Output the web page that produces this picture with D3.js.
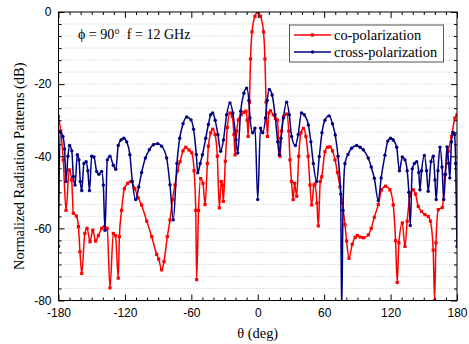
<!DOCTYPE html>
<html>
<head>
<meta charset="UTF-8">
<script src="https://d3js.org/d3.v7.min.js"></script>
<style>
  body { margin: 0; background: #fff; }
  svg { display: block; }
  .tick text { font-family: "Liberation Sans", Arial, sans-serif; font-size: 12px; fill: #000; }
  .serif { font-family: "Liberation Serif", "Times New Roman", serif; fill: #000; }
</style>
</head>
<body>
<svg id="chart" width="469" height="344"></svg>
<script>
// co-polarization (red)
const thetaCo = [-180, -178, -175.7, -173.2, -170.3, -168.1, -166.6, -163.8, -162, -160.6, -159, -156.2, -154.2, -151.5,
  -149, -146.5, -144, -141, -138.5, -136, -133.5, -130.5, -128.5, -126, -125, -123, -120.5, -117.5, -114.5, -111,
  -108, -105, -100.3, -95.8, -91.3, -89.5, -86.8, -84.7, -81.7, -79.3, -77, -74.8, -72.5, -70.2, -67.5, -65, -62,
  -59.7, -57.5, -56, -55.2, -53.5, -51.6, -49.5, -47.6, -45.5, -44.6, -42.5, -40.7, -38.5, -36.5, -34.7, -33, -32,
  -31.1, -29.3, -27.5, -25.1, -23, -21.5, -20.5, -19, -17.5, -15, -12.5, -10.6, -9.5, -8.7, -7.5, -6.5, -5.2, -2.5,
  0, 2.5, 5.2, 6.5, 7.5, 8.7, 10, 11.5, 14, 16, 17.7, 19, 20.1, 21.5, 23.5, 26.1, 28, 29.1, 30.5, 32, 33.3, 35.2,
  37, 39, 41.2, 43.5, 45.5, 47.2, 48.7, 50.8, 51.7, 53.5, 54.7, 56.5, 57.8, 60.7, 63, 65.3, 67.5, 69.8, 72, 74.3,
  76.5, 78.8, 80.3, 82.4, 85.4, 88, 90, 92.5, 95.4, 99.9, 102.5, 105.3, 108.9, 111.9, 115.5, 119.4, 122.4, 124.5,
  126, 127.5, 130.6, 133, 135, 137.5, 140.5, 142.5, 145, 148, 151, 154, 156, 158.5, 159.7, 161, 163.1, 166.7, 169.1,
  172.1, 175.1, 178.1, 180];
const dbCo = [-29, -33, -41, -55, -43.8, -46.6, -55.8, -56.6, -59.5, -66.5, -72.5, -61.4, -60, -63.7,
  -60.5, -63.5, -62, -60, -59.5, -60, -76.5, -61.4, -62, -73.8, -62.3, -55, -49, -47.5, -47, -49,
  -51.5, -53.5, -58, -62.3, -67.2, -68.5, -71.5, -69.2, -62.3, -57.7, -52, -48, -44, -41.5, -38.5, -37.5, -38.3,
  -39, -44, -55, -74.2, -55, -46.2, -47.5, -53.4, -42, -37.2, -33.5, -32.5, -34, -40, -54.3, -47, -48,
  -52.5, -41.4, -32, -28, -29, -34, -39.6, -33, -29.9, -28.5, -27.8, -27.5, -30, -34.5, -25, -13, -5.5, -1.2,
  0, -1.2, -5.5, -13, -25, -34.5, -28, -27.4, -28.5, -29.5, -30, -36, -40, -33, -29, -28.3, -33, -41, -47, -52, -47.5, -51.1,
  -40, -33.5, -32.3, -34.5, -40, -48, -53.5, -48, -47.7, -53, -59.3, -47, -45.7, -38.7, -37.5, -37.4, -38.5, -41, -44.5, -48.5,
  -53, -59, -63.5, -68.3, -64.4, -62.5, -62, -62.4, -62.6, -61.8, -60, -56.9, -53.4, -49.3, -48.3, -49.3, -53.5, -63.4,
  -75, -64, -58.5, -65, -58, -51, -49.3, -50.5, -53.9, -55.3, -56.2, -56.7, -58, -66, -80, -64, -54.8, -54.2, -45.1,
  -38.6, -34.5, -29.4, -28.5];

// cross-polarization (blue)
const thetaCross = [-180, -178.6, -176, -174.5, -173.2, -171.5, -170, -168, -166.6, -165.1, -163, -161.5, -160.3, -159,
  -157, -155, -153.5, -152, -150, -148, -145.5, -143.5, -141, -139.5, -138, -135.9, -133.5, -130.5, -128.2, -126,
  -123.5, -121, -118.4, -115.5, -113.3, -110.3, -107.5, -104.9, -101.5, -98, -94.3, -90.4, -86.8, -82.3, -79.3,
  -76.3, -73, -70.5, -67.5, -64.2, -60.3, -58, -55.5, -54.2, -52, -50, -47, -44.6, -42.5, -40.7, -38.5, -36, -33.5,
  -31, -28.1, -25.1, -22.5, -19.6, -18.1, -15.4, -12.5, -10, -8, -7, -4.5, -2.5, 0, 2.5, 4.5, 7, 8.5, 10.5, 13,
  15.6, 18, 19.5, 21, 23.1, 26.1, 28.5, 30.6, 34, 36.5, 39.5, 42, 45.7, 48, 50.2, 53.2, 55.6, 58, 60.7, 64.5, 67.5,
  70, 72.5, 74.9, 75.8, 77, 78.8, 81.5, 84.8, 89.3, 92.5, 95.3, 99.8, 102.5, 105.3, 108.9, 111.5, 114.9, 117.5, 120,
  122.4, 125.5, 128, 130.6, 133, 135, 136.5, 137.8, 139.6, 141.5, 143.6, 145.5, 146.5, 148, 150.5, 152.5, 154, 156.5,
  158.6, 160.1, 161.2, 162.8, 164.6, 166.5, 168, 169.5, 171, 172.5, 173.5, 175, 176.3, 177.8, 178.8, 180];
const dbCross = [-65, -33.2, -34.5, -38, -47, -40, -37, -38.5, -45.6, -48, -39.6, -41, -47, -49.5,
  -42, -41.5, -44, -49.5, -40, -40.2, -44.2, -45, -44.2, -48, -60.5, -41, -40, -42.5, -43.6, -37,
  -35.5, -35, -36, -39.6, -47, -52, -48.5, -44.5, -40.5, -38.2, -36.8, -36.5, -37.2, -40.5, -47.9,
  -57.6, -42, -35, -31, -29.1, -29.9, -32.5, -39.5, -44.6, -42, -39.6, -35, -31.2, -28.5, -28, -30, -34, -38.6,
  -35.5, -28.5, -25.2, -28, -35.4, -39.1, -27.5, -22.5, -21.1, -24.5, -29.4, -33.5, -32.2, -52, -32.2, -33.5, -29.4, -24.5, -21.5, -23,
  -28.5, -36, -39.6, -35, -29.4, -25, -28.5, -34.5, -37, -34, -28, -28.5, -31.3, -36, -42, -47, -40.1, -33.5, -30, -28.8, -31,
  -34.1, -40, -50.5, -84, -55, -42, -39.5, -37.8, -37, -37.5, -38.2, -40.5, -43, -46.1, -52.3, -46, -39.7, -35.8, -35,
  -35.5, -37.5, -44, -40.2, -41, -44, -50, -59.2, -43.5, -42, -41.5, -44.5, -49.3, -44, -39.8, -44, -49.7, -41.5,
  -40, -46.6, -52, -44, -37.5, -43, -52, -45, -37.4, -42, -46, -36, -33.3, -34, -42, -65];

const xTicks = [-180, -120, -60, 0, 60, 120, 180];
const yTicks = [0, -20, -40, -60, -80];

const svg = d3.select("#chart");
const mLeft = 58.5, mRight = 457, mTop = 12, mBottom = 300.5;

const x = d3.scaleLinear().domain([-180, 180]).range([mLeft, mRight]);
const y = d3.scaleLinear().domain([-80, 0]).range([mBottom, mTop]);

const xMinor = d3.range(-180, 181, 10).filter(v => !xTicks.includes(v));
const yAll = d3.range(0, 25).map(i => -80 + i * 80 / 24);
const yMinor = yAll.filter(v => !yTicks.some(t => Math.abs(t - v) < 1e-6));
const fmt = d => String(d);

// grid
svg.append("g")
  .selectAll("line")
  .data(yAll.filter(v => v > -79.9 && v < -0.1))
  .join("line")
  .attr("x1", mLeft).attr("x2", mRight)
  .attr("y1", d => y(d)).attr("y2", d => y(d))
  .attr("stroke", "#c4c4c4")
  .attr("stroke-width", 1)
  .attr("stroke-dasharray", "1,2");

svg.append("defs").append("clipPath").attr("id", "clip")
  .append("rect").attr("x", mLeft).attr("y", mTop).attr("width", mRight - mLeft).attr("height", mBottom - mTop);

const line = d3.line().x(d => x(d[0])).y(d => y(d[1])).curve(d3.curveMonotoneX);

const co = thetaCo.map((t, i) => [t, dbCo[i]]);
const cross = thetaCross.map((t, i) => [t, dbCross[i]]);

const plot = svg.append("g").attr("clip-path", "url(#clip)");

plot.append("path").datum(co)
  .attr("d", line).attr("fill", "none").attr("stroke", "#ff0000").attr("stroke-width", 1.5);
plot.append("g").selectAll("rect").data(co).join("rect")
  .attr("x", d => x(d[0]) - 1.6).attr("y", d => y(d[1]) - 1.6)
  .attr("width", 3.2).attr("height", 3.2).attr("fill", "#ff0000");

plot.append("path").datum(cross)
  .attr("d", line).attr("fill", "none").attr("stroke", "#000080").attr("stroke-width", 1.5);
plot.append("g").selectAll("circle").data(cross).join("circle")
  .attr("cx", d => x(d[0])).attr("cy", d => y(d[1])).attr("r", 1.7).attr("fill", "#000080");

// axes
function styleAxis(g) {
  g.select(".domain").remove();
  g.selectAll(".tick line").attr("stroke", "#000");
}
svg.append("g").attr("transform", `translate(0,${mBottom})`)
  .call(d3.axisBottom(x).tickValues(xTicks).tickSize(-6).tickPadding(8).tickFormat(fmt))
  .call(styleAxis);
svg.append("g").attr("transform", `translate(0,${mBottom})`)
  .call(d3.axisBottom(x).tickValues(xMinor).tickSize(-3).tickFormat(""))
  .call(styleAxis);
svg.append("g").attr("transform", `translate(0,${mTop})`)
  .call(d3.axisTop(x).tickValues(xTicks).tickSize(-6).tickFormat(""))
  .call(styleAxis);
svg.append("g").attr("transform", `translate(0,${mTop})`)
  .call(d3.axisTop(x).tickValues(xMinor).tickSize(-3).tickFormat(""))
  .call(styleAxis);
svg.append("g").attr("transform", `translate(${mLeft},0)`)
  .call(d3.axisLeft(y).tickValues(yTicks).tickSize(-6).tickPadding(7).tickFormat(fmt))
  .call(styleAxis);
svg.append("g").attr("transform", `translate(${mLeft},0)`)
  .call(d3.axisLeft(y).tickValues(yMinor).tickSize(-3).tickFormat(""))
  .call(styleAxis);
svg.append("g").attr("transform", `translate(${mRight},0)`)
  .call(d3.axisRight(y).tickValues(yTicks).tickSize(-6).tickFormat(""))
  .call(styleAxis);
svg.append("g").attr("transform", `translate(${mRight},0)`)
  .call(d3.axisRight(y).tickValues(yMinor).tickSize(-3).tickFormat(""))
  .call(styleAxis);

svg.append("rect")
  .attr("x", mLeft).attr("y", mTop).attr("width", mRight - mLeft).attr("height", mBottom - mTop)
  .attr("fill", "none").attr("stroke", "#000").attr("stroke-width", 1);

// labels
svg.append("text").attr("class", "serif")
  .attr("x", (mLeft + mRight) / 2).attr("y", 338)
  .attr("text-anchor", "middle").style("font-size", "14.4px")
  .text("θ (deg)");
svg.append("text").attr("class", "serif")
  .attr("transform", `translate(24,${(mTop + mBottom) / 2 + 10}) rotate(-90)`)
  .attr("text-anchor", "middle").style("font-size", "14.4px")
  .text("Normalized Radiation Patterns (dB)");
svg.append("text").attr("class", "serif")
  .attr("x", 78).attr("y", 39).style("font-size", "14px")
  .attr("xml:space", "preserve")
  .text("ϕ = 90°  f = 12 GHz");

// legend
const legend = svg.append("g");
legend.append("rect")
  .attr("x", 289.5).attr("y", 25).attr("width", 154).attr("height", 37)
  .attr("fill", "#fff").attr("stroke", "#555").attr("stroke-width", 1);
const legendItems = [
  { label: "co-polarization", color: "#ff0000", shape: "square" },
  { label: "cross-polarization", color: "#000080", shape: "circle" }
];
legendItems.forEach((it, i) => {
  const ly = 35 + i * 17;
  legend.append("line").attr("x1", 294).attr("x2", 331).attr("y1", ly).attr("y2", ly)
    .attr("stroke", it.color).attr("stroke-width", 1.5);
  if (it.shape === "square") {
    legend.append("rect").attr("x", 312.5 - 1.6).attr("y", ly - 1.6).attr("width", 3.2).attr("height", 3.2).attr("fill", it.color);
  } else {
    legend.append("circle").attr("cx", 312.5).attr("cy", ly).attr("r", 1.7).attr("fill", it.color);
  }
  legend.append("text").attr("class", "serif")
    .attr("x", 334).attr("y", ly + 5).style("font-size", "14.4px")
    .text(it.label);
});
</script>
</body>
</html>
